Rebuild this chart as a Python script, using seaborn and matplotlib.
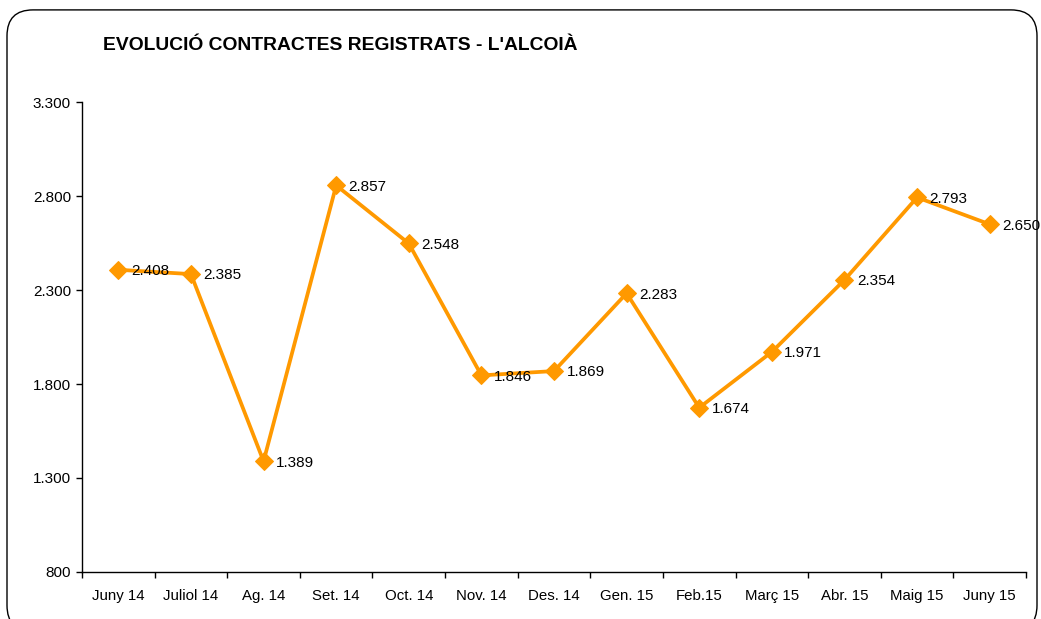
import numpy as np
import pandas as pd
import matplotlib
matplotlib.use('Agg')
import matplotlib.pyplot as plt
import seaborn as sns
from matplotlib.patches import FancyBboxPatch
from matplotlib.ticker import FuncFormatter, FixedLocator

months = ['Juny 14', 'Juliol 14', 'Ag. 14', 'Set. 14', 'Oct. 14', 'Nov. 14', 'Des. 14',
          'Gen. 15', 'Feb.15', 'Març 15', 'Abr. 15', 'Maig 15', 'Juny 15']
contracts = [2408, 2385, 1389, 2857, 2548, 1846, 1869, 2283, 1674, 1971, 2354, 2793, 2650]
y_ticks = [800, 1300, 1800, 2300, 2800, 3300]

line_color = '#FF9900'

sns.set_theme(style='white')
plt.rcParams['font.family'] = ['Liberation Sans', 'DejaVu Sans']
plt.rcParams['text.color'] = 'black'

df = pd.DataFrame({'Mes': months, 'Contractes': contracts})

fig = plt.figure(figsize=(10.41, 6.19), dpi=100)
ax = fig.add_axes([0.0788, 0.076, 0.9068, 0.759])

# rounded frame round the whole chart
frame = FancyBboxPatch((7 / 1041, -0.02), 1030 / 1041, 0.984 - (-0.02),
                       boxstyle='round,pad=0,rounding_size=0.025',
                       transform=fig.transFigure, fill=False,
                       edgecolor='black', linewidth=1.0, clip_on=False,
                       mutation_aspect=1041 / 619)
fig.patches.append(frame)

sns.lineplot(data=df, x='Mes', y='Contractes', ax=ax, color=line_color,
             linewidth=2.7, marker='D', markersize=9.5, markeredgecolor=line_color,
             sort=False)

def thousands(x, pos):
    return f'{x:,.0f}'.replace(',', '.')

for i, v in enumerate(df['Contractes']):
    ax.annotate(thousands(v, None), (i, v), xytext=(9, -1), textcoords='offset points',
                ha='left', va='center', fontsize=11, color='black')

ax.set_xlim(-0.5, len(months) - 0.5)
ax.set_ylim(y_ticks[0], y_ticks[-1])
ax.set_yticks(y_ticks)
ax.yaxis.set_major_formatter(FuncFormatter(thousands))

ax.set_xticks(range(len(months)))
ax.set_xticklabels(months)
ax.xaxis.set_minor_locator(FixedLocator(np.arange(-0.5, len(months), 1.0)))
ax.tick_params(axis='x', which='major', length=0, pad=12, labelsize=10.8, colors='black')
ax.tick_params(axis='x', which='minor', length=4, width=1, direction='out', color='black', bottom=True)
ax.tick_params(axis='y', which='major', length=4, width=1, direction='out', labelsize=11,
               colors='black', left=True, pad=4)

ax.set_xlabel('')
ax.set_ylabel('')
ax.grid(False)
for side in ['top', 'right']:
    ax.spines[side].set_visible(False)
for side in ['left', 'bottom']:
    ax.spines[side].set_color('black')
    ax.spines[side].set_linewidth(1)

fig.text(103 / 1041, 1 - 46 / 619, "EVOLUCIÓ CONTRACTES REGISTRATS - L'ALCOIÀ",
         fontsize=13.9, fontweight='bold', ha='left', va='center', color='black')

fig.savefig('out.png', dpi=100)
plt.close(fig)
